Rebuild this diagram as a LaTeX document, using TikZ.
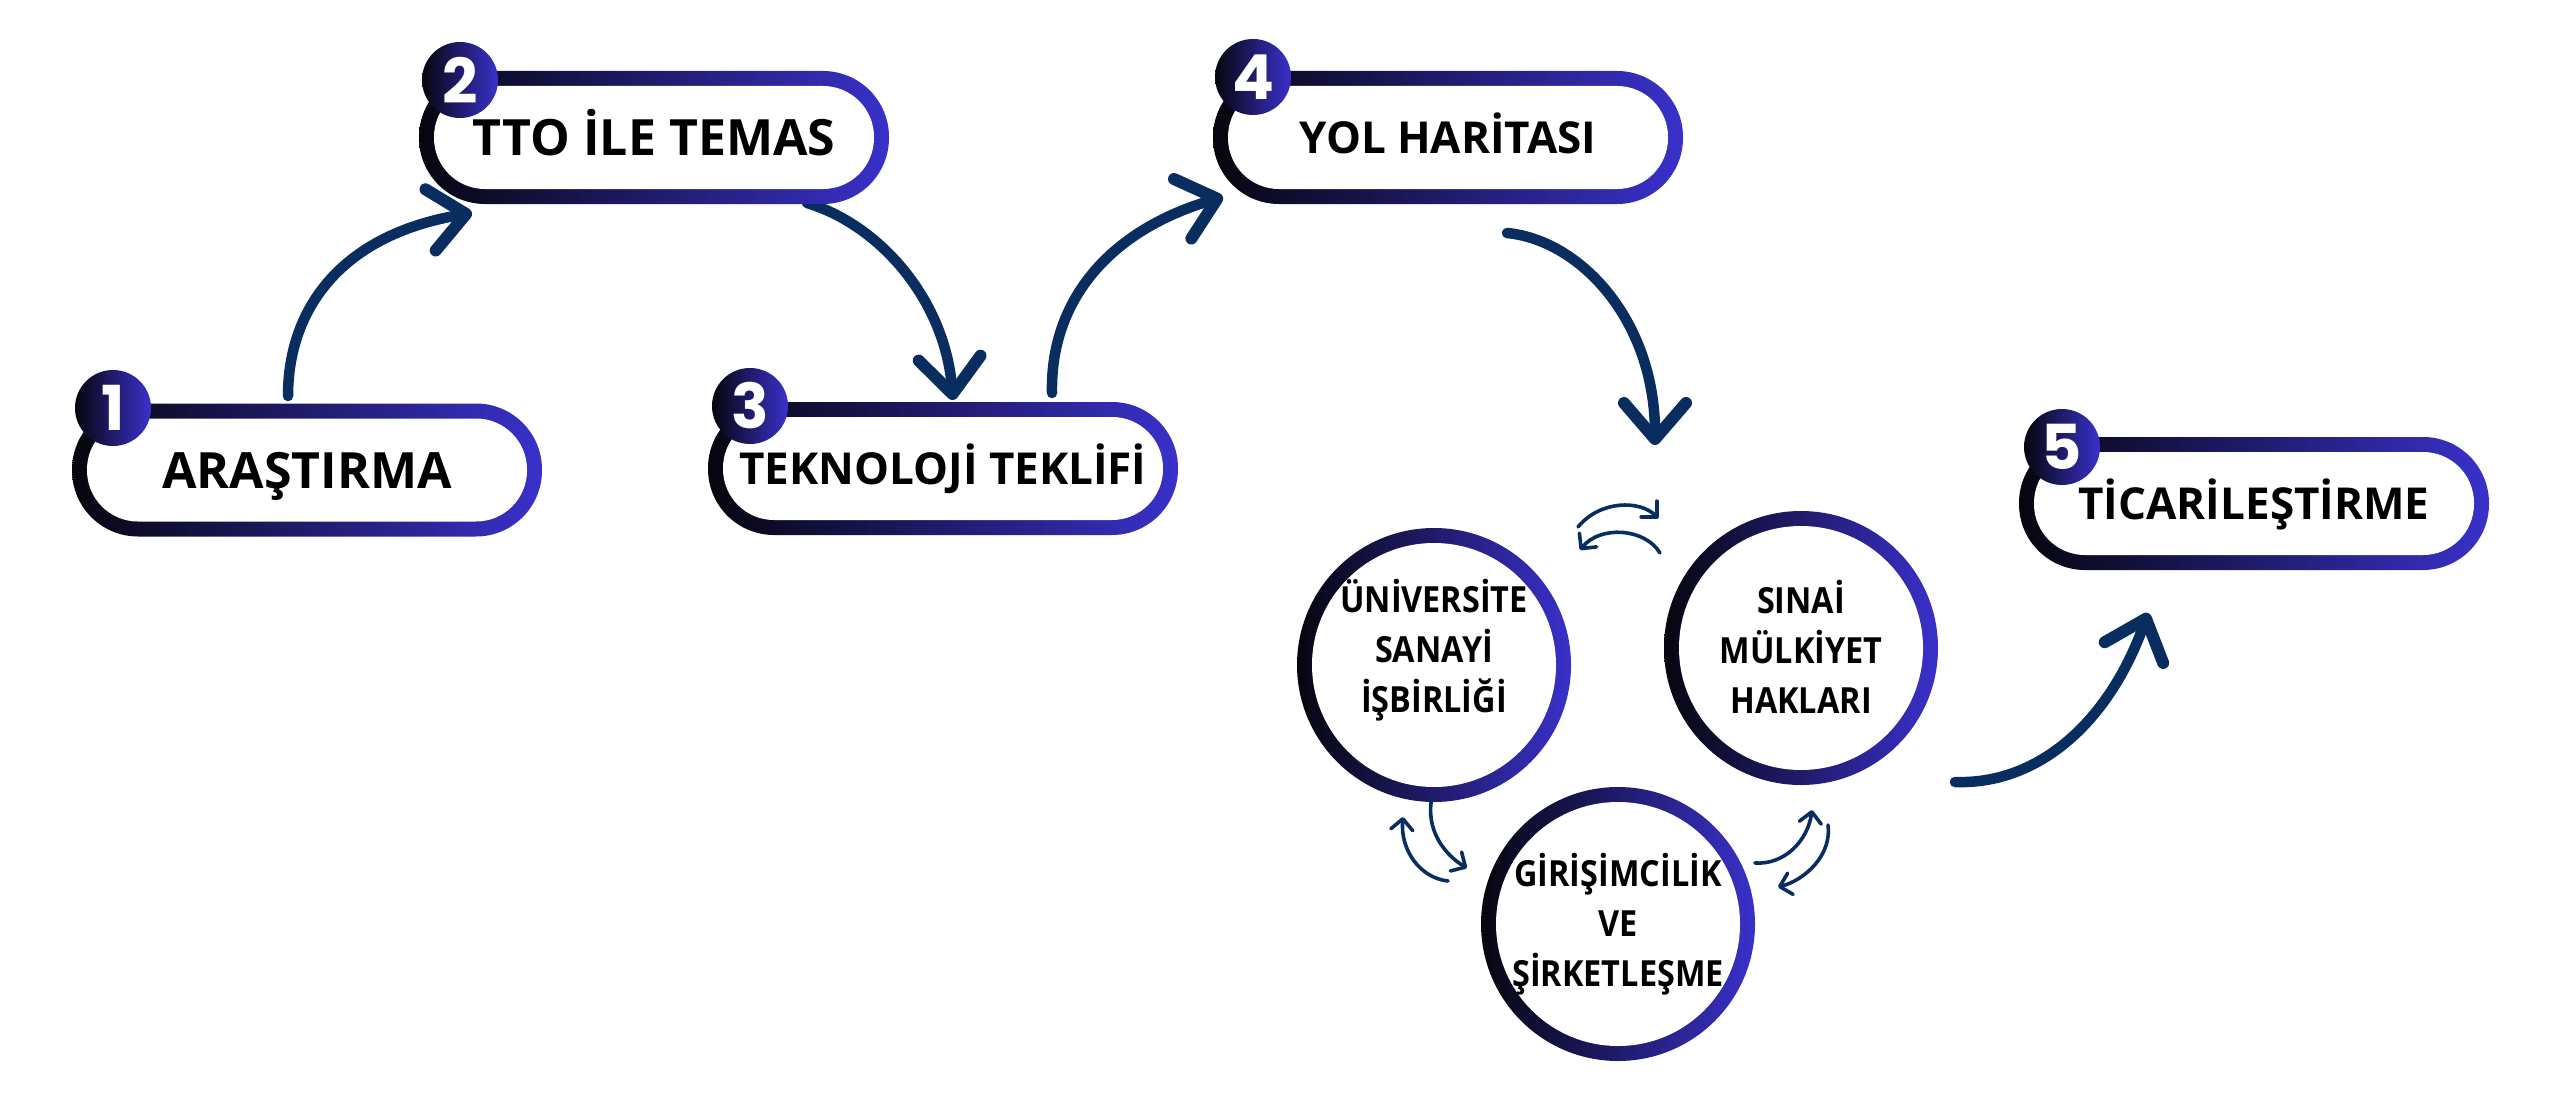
\documentclass[tikz,border=0pt]{standalone}
\usepackage{fontspec}
\setmainfont{Open Sans}
\newfontfamily\numfont{Poppins}
\newfontfamily\condfont[FakeStretch=0.9]{Open Sans}
\usetikzlibrary{arrows.meta}
\definecolor{gL}{RGB}{6,6,14}
\definecolor{gR}{RGB}{57,49,202}
\definecolor{arr}{RGB}{9,45,95}
\begin{document}
\begin{tikzpicture}[x=1pt,y=-1pt,
  pill/.style={rectangle, rounded corners=66pt, minimum width=470pt, minimum height=133pt, inner sep=0pt, outer sep=0pt, left color=gL, right color=gR},
  pillin/.style={rectangle, rounded corners=51pt, minimum width=440pt, minimum height=103pt, inner sep=0pt, outer sep=0pt, fill=white},
  ring/.style={circle, minimum size=274pt, inner sep=0pt, outer sep=0pt, left color=gL, right color=gR},
  ringin/.style={circle, minimum size=244pt, inner sep=0pt, outer sep=0pt, fill=white},
  badge/.style={circle, minimum size=76pt, inner sep=0pt, outer sep=0pt, left color=gL, right color=gR, text=white, font=\numfont\bfseries\fontsize{62}{62}\selectfont},
  bigtext/.style={inner sep=0pt, text depth=0pt, text height=36pt, font=\bfseries\fontsize{50}{50}\selectfont},
  midtext/.style={inner sep=0pt, text depth=0pt, text height=31.4pt, font=\bfseries\fontsize{44}{44}\selectfont},
  ctext/.style={inner sep=0pt, align=center, font=\condfont\bfseries\fontsize{36}{50}\selectfont},
  bigarrow/.style={draw=arr, line width=10.5pt, line cap=round, -{Straight Barb[length=36pt,width=62pt,line width=12pt,round]}},
  smallarrow/.style={draw=arr, line width=3.6pt, line cap=round, -{Straight Barb[length=11pt,width=22pt,round]}}
]
\useasboundingbox (0,0) rectangle (2560,1113);
\fill[white] (0,0) rectangle (2560,1113);

% arrow end points
\coordinate (a1s) at (288,396);  \coordinate (a1e) at (472,213);
\coordinate (a2s) at (807,203);  \coordinate (a2e) at (953,400);
\coordinate (a3s) at (1052,393); \coordinate (a3e) at (1223,197);
\coordinate (a4s) at (1507,233); \coordinate (a4e) at (1655,445);
\coordinate (a5s) at (1955,782); \coordinate (a5e) at (2148,613);

\draw[bigarrow] (a1s) .. controls (288,310) and (340,235) .. (a1e);
\draw[bigarrow] (a2s) .. controls (880,225) and (945,300) .. (a2e);
\draw[bigarrow] (a3s) .. controls (1050,300) and (1110,230) .. (a3e);
\draw[bigarrow] (a4s) .. controls (1580,240) and (1655,320) .. (a4e);
\draw[bigarrow] (a5s) .. controls (2040,785) and (2110,720) .. (a5e);

% boxes
\node[pill] (b1) at (307,470) {};
\node[pillin] (b1i) at (b1) {};
\node[bigtext] (t1) at (b1) {ARAŞTIRMA};
\node[badge] (n1) at (113,408) {1};

\node[pill] (b2) at (654,137.5) {};
\node[pillin] (b2i) at (b2) {};
\node[bigtext] (t2) at (b2) {TTO İLE TEMAS};
\node[badge] (n2) at (460,80) {2};

\node[pill] (b3) at (943,468.5) {};
\node[pillin] (b3i) at (b3) {};
\node[midtext] (t3) at (b3) {TEKNOLOJİ TEKLİFİ};
\node[badge] (n3) at (750,406) {3};

\node[pill] (b4) at (1448,137.5) {};
\node[pillin] (b4i) at (b4) {};
\node[midtext] (t4) at (b4) {YOL HARİTASI};
\node[badge] (n4) at (1253,77) {4};

\node[pill] (b5) at (2254,503.5) {};
\node[pillin] (b5i) at (b5) {};
\node[midtext] (t5) at (b5) {TİCARİLEŞTİRME};
\node[badge] (n5) at (2062,447) {5};

% circles
\node[ring] (c1) at (1434,665) {};
\node[ringin] (c1i) at (c1) {};
\node[ctext] (ct1) at (1434,650) {ÜNİVERSİTE\\SANAYİ\\İŞBİRLİĞİ};

\node[ring] (c2) at (1801,648) {};
\node[ringin] (c2i) at (c2) {};
\node[ctext] (ct2) at (1801,647) {SINAİ\\MÜLKİYET\\HAKLARI};

\node[ring] (c3) at (1618,924) {};
\node[ringin] (c3i) at (c3) {};
\node[ctext] (ct3) at (1618,924) {GİRİŞİMCİLİK\\VE\\ŞİRKETLEŞME};

% small arrows between circles
\coordinate (s1s) at (1578,527); \coordinate (s1e) at (1658,518);
\coordinate (s2s) at (1660,553); \coordinate (s2e) at (1580,550);
\coordinate (s3s) at (1432,797); \coordinate (s3e) at (1467,868);
\coordinate (s4s) at (1448,881); \coordinate (s4e) at (1403,817);
\coordinate (s5s) at (1755,863); \coordinate (s5e) at (1812,810);
\coordinate (s6s) at (1828,825); \coordinate (s6e) at (1778,887);

\draw[smallarrow] (s1s) .. controls (1600,500) and (1640,500) .. (s1e);
\draw[smallarrow] (s2s) .. controls (1645,528) and (1600,525) .. (s2e);
\draw[smallarrow] (s3s) .. controls (1425,830) and (1445,855) .. (s3e);
\draw[smallarrow] (s4s) .. controls (1420,878) and (1400,850) .. (s4e);
\draw[smallarrow] (s5s) .. controls (1785,865) and (1808,840) .. (s5e);
\draw[smallarrow] (s6s) .. controls (1832,855) and (1805,880) .. (s6e);
\end{tikzpicture}
\end{document}
